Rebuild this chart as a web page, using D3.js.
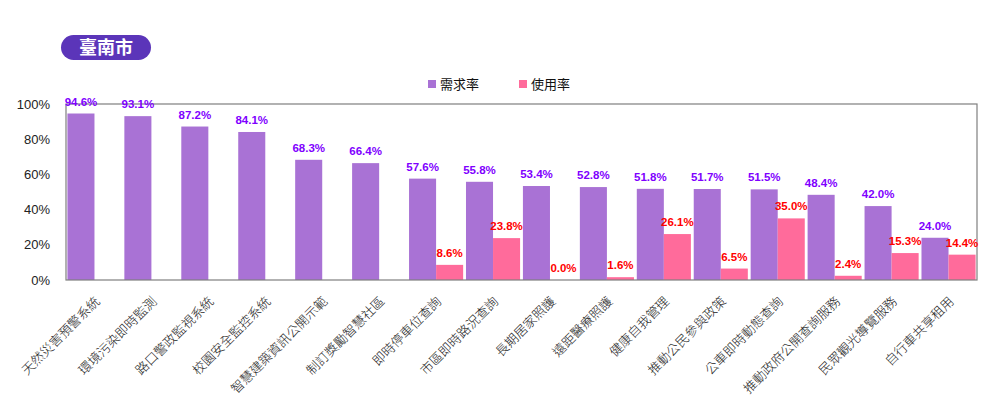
<!DOCTYPE html>
<html>
<head>
<meta charset="utf-8">
<script src="https://cdn.jsdelivr.net/npm/d3@7"></script>
<style>
  body { margin: 0; background: #fff; }
  svg { display: block; font-family: "Liberation Sans", Arial, "Noto Sans CJK TC", sans-serif; }
</style>
</head>
<body>
<script>
// data
const cityName = "臺南市";
const categories = ["天然災害預警系統", "環境污染即時監測", "路口警政監視系統", "校園安全監控系統",
    "智慧建築資訊公開示範", "制訂獎勵智慧社區", "即時停車位查詢", "市區即時路況查詢",
    "長期居家照護", "遠距醫療照護", "健康自我管理", "推動公民參與政策",
    "公車即時動態查詢", "推動政府公開查詢服務", "民眾觀光導覽服務", "自行車共享租用"];
const demandRate = [94.6, 93.1, 87.2, 84.1, 68.3, 66.4, 57.6, 55.8, 53.4, 52.8, 51.8, 51.7, 51.5, 48.4, 42.0, 24.0];
const usageRate = [null, null, null, null, null, null, 8.6, 23.8, 0.0, 1.6, 26.1, 6.5, 35.0, 2.4, 15.3, 14.4];
const seriesNames = ["需求率", "使用率"];
const yTicks = [0, 20, 40, 60, 80, 100];

// layout
const W = 990, H = 397;
const margin = {top: 104, right: 13, bottom: 117, left: 66};
const width = W - margin.left - margin.right,
    height = H - margin.top - margin.bottom;

const colors = ["#a972d5", "#ff6b9b"];
const labelColors = ["#7f00ff", "#ff0000"];

const svg = d3.select("body").append("svg")
    .attr("width", W)
    .attr("height", H);

// title pill
const title = svg.append("g").attr("transform", "translate(61,35)");
title.append("rect")
    .attr("width", 90).attr("height", 25)
    .attr("rx", 12.5)
    .attr("fill", "#5b35b9");
title.append("text")
    .attr("x", 45).attr("y", 19)
    .attr("text-anchor", "middle")
    .attr("fill", "#fff")
    .style("font-size", "18px")
    .style("font-family", "'Noto Sans CJK TC', sans-serif")
    .style("font-weight", "bold")
    .text(cityName);

// legend
const legendX = [428, 519];
seriesNames.forEach(function (name, i) {
    const lg = svg.append("g").attr("transform", "translate(" + legendX[i] + ",80)");
    lg.append("rect").attr("width", 8).attr("height", 8).attr("fill", colors[i]);
    lg.append("text")
        .attr("x", 12).attr("y", 8.5)
        .style("font-size", "13px")
        .style("font-family", "'Noto Sans CJK TC', sans-serif")
        .attr("fill", "#111")
        .text(name);
});

const g = svg.append("g")
    .attr("transform", "translate(" + margin.left + "," + margin.top + ")");

const x0 = d3.scaleBand()
    .domain(categories)
    .range([0, width])
    .paddingInner(0.05)
    .paddingOuter(0.025);

const x1 = d3.scaleBand()
    .domain([0, 1])
    .range([0, x0.bandwidth()]);

const y = d3.scaleLinear()
    .domain([0, 100])
    .range([height, 0]);

// y axis labels
g.selectAll(".ytick")
    .data(yTicks)
    .enter().append("text")
    .attr("class", "ytick")
    .attr("x", -16)
    .attr("y", function (d) { return y(d); })
    .attr("dy", "0.36em")
    .attr("text-anchor", "end")
    .style("font-size", "13px")
    .attr("fill", "#222")
    .text(function (d) { return d + "%"; });

// bars
const series = [demandRate, usageRate];
series.forEach(function (vals, s) {
    const rows = categories.map(function (c, i) { return {cat: c, v: vals[i]}; })
        .filter(function (d) { return d.v !== null; });

    g.selectAll(".bar" + s)
        .data(rows)
        .enter().append("rect")
        .attr("class", "bar" + s)
        .attr("x", function (d) { return x0(d.cat) + x1(s); })
        .attr("y", function (d) { return y(d.v); })
        .attr("width", x1.bandwidth())
        .attr("height", function (d) { return height - y(d.v); })
        .attr("fill", colors[s]);
});

// frame
g.append("rect")
    .attr("x", 0).attr("y", 0)
    .attr("width", width).attr("height", height)
    .attr("fill", "none")
    .attr("stroke", "#7f7f7f")
    .attr("stroke-width", 1.2);

// value labels
series.forEach(function (vals, s) {
    const rows = categories.map(function (c, i) { return {cat: c, v: vals[i]}; })
        .filter(function (d) { return d.v !== null; });

    g.selectAll(".lab" + s)
        .data(rows)
        .enter().append("text")
        .attr("class", "lab" + s)
        .attr("x", function (d) { return x0(d.cat) + x1(s) + x1.bandwidth() / 2; })
        .attr("y", function (d) { return y(d.v) - 8; })
        .attr("text-anchor", "middle")
        .style("font-size", "11.5px")
        .style("font-weight", "bold")
        .attr("fill", labelColors[s])
        .text(function (d) { return d.v.toFixed(1) + "%"; });
});

// category labels
g.selectAll(".xlab")
    .data(categories)
    .enter().append("text")
    .attr("class", "xlab")
    .attr("transform", function (d) {
        return "translate(" + (x0(d) + x0.bandwidth() / 2 + 3) + "," + (height + 19) + ") rotate(-45)";
    })
    .attr("text-anchor", "end")
    .attr("dy", "0.35em")
    .style("font-size", "13px")
    .style("font-family", "'Noto Sans CJK TC', sans-serif")
    .style("font-weight", "300")
    .attr("fill", "#222")
    .text(function (d) { return d; });
</script>
</body>
</html>
